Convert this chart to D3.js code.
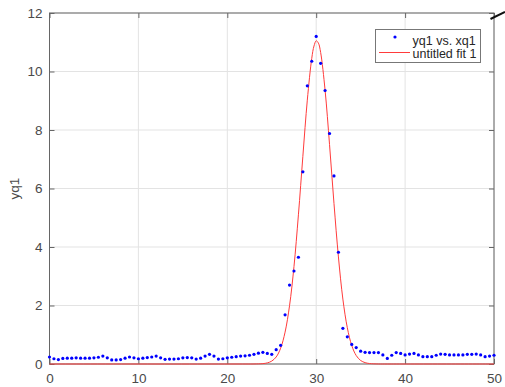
<!DOCTYPE html>
<html>
<head>
<meta charset="utf-8">
<script src="https://cdn.jsdelivr.net/npm/d3@7"></script>
<style>
  body { margin: 0; background: #fff; }
  svg text { font-family: "Liberation Sans", Arial, sans-serif; }
</style>
</head>
<body>
<div id="chart"></div>
<script>
// data points (yq1 vs. xq1)
const xq1 = [0, 0.5, 1, 1.5, 2, 2.5, 3, 3.5, 4, 4.5, 5, 5.5, 6, 6.5, 7, 7.5, 8, 8.5, 9, 9.5,
  10, 10.5, 11, 11.5, 12, 12.5, 13, 13.5, 14, 14.5, 15, 15.5, 16, 16.5, 17, 17.5, 18, 18.5, 19, 19.5,
  20, 20.5, 21, 21.5, 22, 22.5, 23, 23.5, 24, 24.5, 25, 25.5, 26, 26.5, 27, 27.5, 28, 28.5, 29, 29.5,
  30, 30.5, 31, 31.5, 32, 32.5, 33, 33.5, 34, 34.5, 35, 35.5, 36, 36.5, 37, 37.5, 38, 38.5, 39, 39.5,
  40, 40.5, 41, 41.5, 42, 42.5, 43, 43.5, 44, 44.5, 45, 45.5, 46, 46.5, 47, 47.5, 48, 48.5, 49, 49.5, 50];
const yq1 = [0.24, 0.18, 0.15, 0.19, 0.20, 0.20, 0.21, 0.20, 0.20, 0.20, 0.21, 0.23, 0.27, 0.21, 0.14, 0.14, 0.15, 0.20, 0.24, 0.21,
  0.18, 0.20, 0.22, 0.24, 0.27, 0.21, 0.16, 0.17, 0.17, 0.18, 0.21, 0.22, 0.21, 0.17, 0.20, 0.27, 0.33, 0.27, 0.17, 0.18,
  0.21, 0.23, 0.25, 0.27, 0.28, 0.30, 0.33, 0.37, 0.40, 0.36, 0.33, 0.49, 0.64, 1.68, 2.70, 3.18, 3.65, 6.57, 9.51, 10.35,
  11.20, 10.28, 9.35, 7.88, 6.43, 3.82, 1.22, 0.93, 0.67, 0.56, 0.44, 0.40, 0.39, 0.39, 0.39, 0.31, 0.19, 0.30, 0.39, 0.36,
  0.31, 0.34, 0.36, 0.31, 0.25, 0.25, 0.25, 0.30, 0.34, 0.33, 0.31, 0.31, 0.31, 0.31, 0.33, 0.33, 0.34, 0.31, 0.25, 0.27, 0.30];

// fitted curve (untitled fit 1)
const fitX = [0, 22, 23, 24, 24.5, 25, 25.5, 26, 26.5, 27, 27.5, 28, 28.5, 29, 29.5, 29.75, 30, 30.25, 30.5,
  31, 31.5, 32, 32.5, 33, 33.5, 34, 34.5, 35, 35.5, 36, 37, 38, 50];
const fitY = [0, 0, 0.001, 0.013, 0.038, 0.10, 0.24, 0.54, 1.09, 1.99, 3.33, 5.10, 7.10, 9.02, 10.45, 10.87, 11.05, 10.97, 10.65,
  9.36, 7.50, 5.49, 3.66, 2.22, 1.24, 0.63, 0.29, 0.12, 0.047, 0.016, 0.001, 0, 0];

const xTicks = [0, 10, 20, 30, 40, 50];
const yTicks = [0, 2, 4, 6, 8, 10, 12];
const legendLabels = ["yq1 vs. xq1", "untitled fit 1"];

const width = 505, height = 387;
const plotLeft = 49.5, plotRight = 494, plotTop = 13, plotBottom = 364;
const fitColor = "#ff3b3b";

const svg = d3.select("#chart").append("svg")
  .attr("width", width)
  .attr("height", height);

const x = d3.scaleLinear().domain([0, 50]).range([plotLeft, plotRight]);
const y = d3.scaleLinear().domain([0, 12]).range([plotBottom, plotTop]);

// grid
svg.append("g").selectAll("line")
  .data(xTicks)
  .join("line")
  .attr("x1", d => x(d)).attr("x2", d => x(d))
  .attr("y1", plotTop).attr("y2", plotBottom)
  .attr("stroke", "#e3e3e3");
svg.append("g").selectAll("line")
  .data(yTicks)
  .join("line")
  .attr("x1", plotLeft).attr("x2", plotRight)
  .attr("y1", d => y(d)).attr("y2", d => y(d))
  .attr("stroke", "#e3e3e3");

// axes, ticks inside like matlab
const styleAxis = g => {
  g.select(".domain").remove();
  g.selectAll(".tick line").attr("stroke", "#666");
  g.selectAll("text").attr("fill", "#4a4a4a").attr("font-size", "13.5px");
};
svg.append("g")
  .attr("transform", `translate(0,${plotBottom})`)
  .call(d3.axisBottom(x).tickValues(xTicks).tickSize(-5).tickPadding(9))
  .call(styleAxis);
svg.append("g")
  .attr("transform", `translate(0,${plotTop})`)
  .call(d3.axisTop(x).tickValues(xTicks).tickSize(-5).tickFormat(""))
  .call(styleAxis);
svg.append("g")
  .attr("transform", `translate(${plotLeft},0)`)
  .call(d3.axisLeft(y).tickValues(yTicks).tickSize(-5).tickPadding(7))
  .call(styleAxis);
svg.append("g")
  .attr("transform", `translate(${plotRight},0)`)
  .call(d3.axisRight(y).tickValues(yTicks).tickSize(-5).tickFormat(""))
  .call(styleAxis);

svg.append("rect")
  .attr("x", plotLeft).attr("y", plotTop)
  .attr("width", plotRight - plotLeft).attr("height", plotBottom - plotTop)
  .attr("fill", "none")
  .attr("stroke", "#666");

// y label
svg.append("text")
  .attr("transform", `translate(19,${y(6)}) rotate(-90)`)
  .attr("text-anchor", "middle")
  .attr("font-size", "13.5px")
  .attr("fill", "#4a4a4a")
  .text("yq1");

// fit line
const line = d3.line()
  .x((d, i) => x(fitX[i]))
  .y(d => y(d))
  .curve(d3.curveCatmullRom);
svg.append("path")
  .attr("d", line(fitY))
  .attr("fill", "none")
  .attr("stroke", fitColor)
  .attr("stroke-width", 1);

// points
svg.append("g").selectAll("circle")
  .data(yq1)
  .join("circle")
  .attr("cx", (d, i) => x(xq1[i]))
  .attr("cy", d => y(d))
  .attr("r", 1.6)
  .attr("fill", "#0000ff");

// legend
const lg = svg.append("g");
lg.append("rect")
  .attr("x", 375.5).attr("y", 29.5)
  .attr("width", 105).attr("height", 33)
  .attr("fill", "#fff")
  .attr("stroke", "#777");
lg.append("circle")
  .attr("cx", 395).attr("cy", 37)
  .attr("r", 1.6)
  .attr("fill", "#0000ff");
lg.append("line")
  .attr("x1", 379).attr("x2", 410)
  .attr("y1", 52.5).attr("y2", 52.5)
  .attr("stroke", fitColor);
lg.selectAll("text")
  .data(legendLabels)
  .join("text")
  .attr("x", 412.5)
  .attr("y", (d, i) => 45 + i * 12.5)
  .attr("font-size", "12.5px")
  .attr("fill", "#262626")
  .text(d => d);

// stray mark at the top right corner
svg.append("line")
  .attr("x1", 490.5).attr("y1", 19)
  .attr("x2", 505).attr("y2", 12)
  .attr("stroke", "#111")
  .attr("stroke-width", 2);
</script>
</body>
</html>
